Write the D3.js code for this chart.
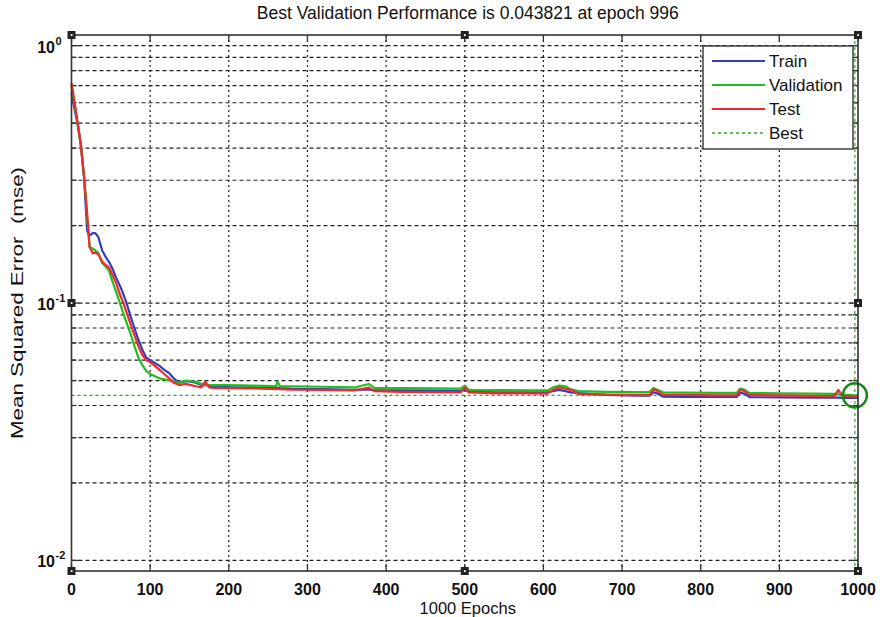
<!DOCTYPE html>
<html><head><meta charset="utf-8">
<script src="https://cdn.jsdelivr.net/npm/d3@7"></script>
<style>body{margin:0;background:#fff}svg{display:block}text{font-family:Arial,"Liberation Sans",sans-serif;fill:#111}</style>
</head><body><svg id="c" width="880" height="617"></svg>
<script>
const epochs = [0,4,8,12,16,20,23,27,30,34,
  39,44,48,53,57,62,66,70,75,80,
  85,90,95,100,106,112,118,124,130,137,
  145,152,158,165,170,175,180,200,230,260,
  262,265,280,320,360,378,385,420,460,495,
  500,505,540,580,605,612,620,628,635,645,
  680,720,735,740,745,752,780,820,846,850,
  856,862,900,940,970,975,980,990,996,1000];
const trainVals = [.655,.565,.49,.41,.305,.19,.183,.187,.187,.181,
  .160,.150,.144,.134,.125,.116,.108,.100,.089,.080,
  .072,.066,.0615,.060,.0585,.057,.055,.0535,.051,.049,
  .0497,.0495,.049,.048,.048,.0478,.0475,.0472,.047,.0468,
  .047,.0467,.0465,.0463,.046,.0462,.0458,.0458,.0457,.0456,
  .046,.0452,.045,.045,.045,.0455,.046,.0455,.045,.0447,
  .044,.0437,.0437,.045,.0445,.0433,.0432,.0432,.0432,.0448,
  .0445,.0431,.043,.0429,.0429,.0429,.0428,.0428,.0428,.0428];
const validationVals = [.70,.59,.495,.405,.31,.215,.165,.163,.160,.157,
  .143,.138,.133,.119,.110,.099,.091,.084,.076,.068,
  .0615,.0575,.0545,.053,.052,.051,.0505,.050,.0495,.0492,
  .050,.0498,.0494,.0485,.0482,.048,.048,.048,.0478,.0476,
  .0495,.0476,.0475,.0473,.047,.0485,.0468,.0467,.0466,.0465,
  .0478,.046,.0459,.0458,.0458,.047,.0478,.0475,.0462,.0455,
  .0452,.0451,.0451,.0468,.046,.045,.0449,.0448,.0448,.0465,
  .046,.0447,.0446,.0445,.0444,.0442,.044,.044,.043821,.0439];
const testVals = [.716,.60,.50,.41,.31,.22,.165,.156,.157,.155,
  .145,.140,.137,.127,.119,.107,.100,.092,.083,.075,
  .068,.063,.060,.059,.057,.055,.053,.051,.049,.048,
  .0485,.048,.0475,.047,.0495,.047,.0468,.0467,.0466,.0463,
  .0465,.0463,.0461,.046,.0458,.047,.0455,.0452,.0451,.045,
  .047,.045,.0446,.0446,.0445,.046,.047,.0465,.046,.0443,
  .0441,.044,.044,.0462,.0455,.044,.044,.0438,.0438,.046,
  .0455,.044,.0438,.0436,.0435,.046,.0437,.0434,.0433,.0433];
const bestEpoch = 996, bestVal = 0.043821;
const xTicks = [0,100,200,300,400,500,600,700,800,900,1000];
const yMajor = [1e-2,1e-1,1];
const yExp = ["-2","-1","0"];
const seriesNames = ["Train","Validation","Test"];
const seriesColors = ["#2f3fc4","#1fbf1f","#f22a2a"];
const titleText = "Best Validation Performance is 0.043821 at epoch 996";

const svg = d3.select("#c");
const L=71.5,R=858,T=35,B=571;
const x = d3.scaleLinear().domain([0,1000]).range([L,R]);
const y = d3.scaleLog().domain([0.0091,1.10]).range([B,T]);

const yGrid = [];
[1e-2,1e-1].forEach(d=>{for(let k=1;k<10;k++) yGrid.push(d*k);});
yGrid.push(1);

const g = svg.append("g");
g.append("rect").attr("x",L).attr("y",T).attr("width",R-L).attr("height",B-T).attr("fill","#fff");
g.selectAll(".hg").data(yGrid).enter().append("line")
 .attr("x1",L).attr("x2",R).attr("y1",d=>y(d)).attr("y2",d=>y(d))
 .attr("stroke","#222").attr("stroke-width",1.2).attr("stroke-dasharray","4,3");
g.selectAll(".vg").data(xTicks.slice(1,-1)).enter().append("line")
 .attr("x1",d=>x(d)).attr("x2",d=>x(d)).attr("y1",T).attr("y2",B)
 .attr("stroke","#222").attr("stroke-width",1.2).attr("stroke-dasharray","2,3");
g.selectAll(".tl").data(yGrid).enter().append("line")
 .attr("x1",L).attr("x2",d=>L+(yMajor.includes(d)?8:5)).attr("y1",d=>y(d)).attr("y2",d=>y(d))
 .attr("stroke","#333").attr("stroke-width",1.3);
g.selectAll(".tr").data(yGrid).enter().append("line")
 .attr("x1",R).attr("x2",d=>R-(yMajor.includes(d)?8:5)).attr("y1",d=>y(d)).attr("y2",d=>y(d))
 .attr("stroke","#333").attr("stroke-width",1.3);
g.selectAll(".tb").data(xTicks).enter().append("line")
 .attr("x1",d=>x(d)).attr("x2",d=>x(d)).attr("y1",B).attr("y2",B-7)
 .attr("stroke","#333").attr("stroke-width",1.3);
g.selectAll(".tt").data(xTicks).enter().append("line")
 .attr("x1",d=>x(d)).attr("x2",d=>x(d)).attr("y1",T).attr("y2",T+7)
 .attr("stroke","#333").attr("stroke-width",1.3);

g.append("line").attr("x1",L).attr("x2",R).attr("y1",y(bestVal)).attr("y2",y(bestVal))
 .attr("stroke","#22b022").attr("stroke-width",1.2).attr("stroke-dasharray","3,3");
g.append("line").attr("x1",x(bestEpoch)).attr("x2",x(bestEpoch)).attr("y1",T).attr("y2",B)
 .attr("stroke","#22b022").attr("stroke-width",1.2).attr("stroke-dasharray","3,3");

const line = d3.line().x((d,i)=>x(epochs[i])).y(d=>y(d));
[trainVals,validationVals,testVals].forEach((vals,i)=>{
  g.append("path").datum(vals).attr("d",line).attr("fill","none")
   .attr("stroke",seriesColors[i]).attr("stroke-width",2.2).attr("stroke-linejoin","round");
});
g.append("circle").attr("cx",x(bestEpoch)).attr("cy",y(bestVal)).attr("r",12)
 .attr("fill","none").attr("stroke","#138a13").attr("stroke-width",2.5);

g.append("rect").attr("x",L).attr("y",T).attr("width",R-L).attr("height",B-T)
 .attr("fill","none").attr("stroke","#333").attr("stroke-width",1.6);

const hx=[L,(L+R)/2,R], hy=[T,(T+B)/2,B];
const handles=[];
hx.forEach(a=>hy.forEach(b=>{ if(!(a===(L+R)/2&&b===(T+B)/2)) handles.push([a,b]);}));
g.selectAll(".h").data(handles).enter().append("rect")
 .attr("x",d=>d[0]-4).attr("y",d=>d[1]-4).attr("width",8).attr("height",8).attr("fill","#222");
g.selectAll(".hd").data(handles).enter().append("rect")
 .attr("x",d=>d[0]-0.8).attr("y",d=>d[1]-0.8).attr("width",1.8).attr("height",1.8).attr("fill","#fff");

g.selectAll(".xl").data(xTicks).enter().append("text")
 .attr("x",d=>x(d)).attr("y",595).attr("text-anchor","middle")
 .attr("font-size",16).attr("font-weight","bold").text(d=>d);
yMajor.forEach((v,i)=>{
  g.append("text").attr("x",55).attr("y",y(v)+7).attr("text-anchor","end")
   .attr("font-size",16).attr("font-weight","bold").text("10");
  g.append("text").attr("x",55.5).attr("y",y(v)-1).attr("font-size",11).attr("font-weight","bold").text(yExp[i]);
});

svg.append("text").attr("x",(L+R)/2+3).attr("y",19).attr("text-anchor","middle").attr("font-size",17.5).text(titleText);
svg.append("text").attr("x",(L+R)/2+3).attr("y",614).attr("text-anchor","middle").attr("font-size",16.5).text("1000 Epochs");
svg.append("text").attr("transform","translate(23,"+((T+B)/2)+") rotate(-90)").attr("text-anchor","middle")
 .attr("font-size",17).attr("textLength",272).attr("lengthAdjust","spacingAndGlyphs")
 .attr("xml:space","preserve").style("white-space","pre").text("Mean Squared Error  (mse)");

const lg = svg.append("g");
lg.append("rect").attr("x",703).attr("y",46).attr("width",150).attr("height",103)
 .attr("fill","#fff").attr("stroke","#333").attr("stroke-width",1.4);
const legNames = seriesNames.concat(["Best"]);
const legColors = seriesColors.concat(["#22b022"]);
legNames.forEach((n,i)=>{
  const yy = 61 + i*24;
  lg.append("line").attr("x1",712).attr("x2",765).attr("y1",yy).attr("y2",yy)
   .attr("stroke",legColors[i]).attr("stroke-width",i===3?1.4:2.2).attr("stroke-dasharray",i===3?"3,3":null);
  lg.append("text").attr("x",769).attr("y",yy+6).attr("font-size",17).text(n);
});
</script></body></html>
